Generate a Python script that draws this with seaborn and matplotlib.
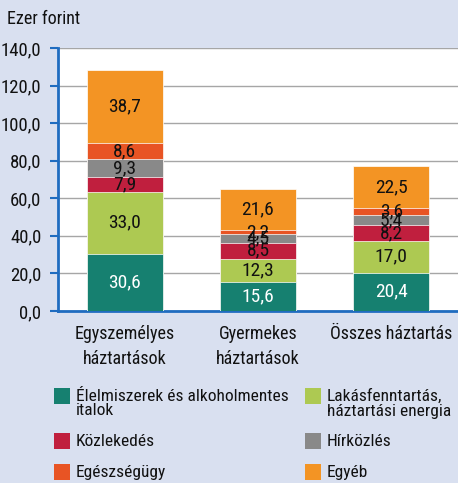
import pandas as pd
import matplotlib
matplotlib.use('Agg')
import matplotlib.pyplot as plt
import matplotlib.font_manager as fm
from matplotlib.patches import Rectangle
import seaborn as sns

# data (ezer forint)
categories = ['Egyszemélyes\nháztartások', 'Gyermekes\nháztartások', 'Összes háztartás']
series_names = ['Élelmiszerek és alkoholmentes\nitalok', 'Lakásfenntartás,\nháztartási energia',
                'Közlekedés', 'Hírközlés', 'Egészségügy', 'Egyéb']
elelmiszer = [30.6, 15.6, 20.4]
lakas = [33.0, 12.3, 17.0]
kozlekedes = [7.9, 8.5, 8.2]
hirkozles = [9.3, 4.5, 5.4]
egeszseg = [8.6, 2.2, 3.6]
egyeb = [38.7, 21.6, 22.5]
colors = ['#168070', '#adc952', '#c01f3e', '#898989', '#e85424', '#f39424']
yticks = [0, 20, 40, 60, 80, 100, 120, 140]

sns.set_theme(style='white')

# try to find a condensed font, the original uses a narrow typeface
names = {f.name for f in fm.fontManager.ttflist}
font = 'DejaVu Sans'
for cand in ['Liberation Sans Narrow', 'DejaVu Sans Condensed', 'Roboto Condensed',
             'Open Sans Condensed', 'Noto Sans Condensed']:
    if cand in names:
        font = cand
        break
plt.rcParams['font.family'] = [font, 'DejaVu Sans']
if font == 'DejaVu Sans':
    plt.rcParams['font.stretch'] = 'condensed'

bg = '#d9e0f0'
blue = '#1f6cc0'
ink = '#111111'

values = [elelmiszer, lakas, kozlekedes, hirkozles, egeszseg, egyeb]
df = pd.DataFrame({n: v for n, v in zip(series_names, values)}, index=categories)
cum = df.cumsum(axis=1)

fig = plt.figure(figsize=(4.58, 4.83), dpi=100, facecolor=bg)
ax = fig.add_axes([58 / 458, 1 - 311 / 483, 400 / 458, 263 / 483])
ax.set_facecolor('white')

# stacked bars: draw cumulative totals from the top down
for i in range(len(series_names) - 1, -1, -1):
    d = pd.DataFrame({'cat': categories, 'val': cum.iloc[:, i].values})
    sns.barplot(data=d, x='cat', y='val', color=colors[i], width=0.57,
                edgecolor='white', linewidth=0.5, saturation=1, ax=ax, zorder=3)

for i, n in enumerate(series_names):
    for j in range(len(categories)):
        v = df.iloc[j, i]
        mid = cum.iloc[j, i] - v / 2
        ax.text(j, mid, f'{v:.1f}'.replace('.', ','), ha='center', va='center',
                fontsize=14, color='white' if i == 0 else ink, zorder=5)

ax.set_xlim(-0.5, 2.5)
ax.set_ylim(0, 140)
ax.set_yticks(yticks)
ax.set_yticklabels([f'{t:.1f}'.replace('.', ',') for t in yticks], fontsize=13.5, color=ink)
ax.yaxis.grid(True, color='#a6a6a6', linewidth=1, zorder=0)
ax.set_axisbelow(True)
ax.set_xlabel('')
ax.set_ylabel('')
ax.set_xticks([0, 1, 2])
ax.set_xticklabels(categories, fontsize=13, color=ink, linespacing=1.5)
ax.set_xticks([-0.5, 0.5, 1.5, 2.5], minor=True)
ax.tick_params(axis='x', which='major', length=0, pad=10)
ax.tick_params(axis='x', which='minor', length=6, width=1.5, color=blue, direction='out')
ax.tick_params(axis='y', length=6, width=1.5, color=blue, direction='out', left=True, pad=6)
for s in ['top', 'right']:
    ax.spines[s].set_visible(False)
for s in ['left', 'bottom']:
    ax.spines[s].set_color(blue)
    ax.spines[s].set_linewidth(2)

fig.text(7 / 458, 1 - 19 / 483, 'Ezer forint', fontsize=13, color=ink, va='center')

# legend in two columns, marker aligned with the first text line
legend_items = [(0, 54, 388), (2, 54, 433), (4, 54, 464),
                (1, 305, 388), (3, 305, 433), (5, 305, 464)]
W, H = 458, 483
for k, x, y in legend_items:
    fig.patches.append(Rectangle((x / W, 1 - (y + 16) / H), 16 / W, 16 / H,
                                 transform=fig.transFigure, facecolor=colors[k],
                                 edgecolor='none'))
    fig.text((x + 22) / W, 1 - (y + 1) / H, series_names[k], fontsize=12.5, color=ink,
             va='top', ha='left', linespacing=0.95)

fig.savefig('out.png', dpi=100, facecolor=bg)
